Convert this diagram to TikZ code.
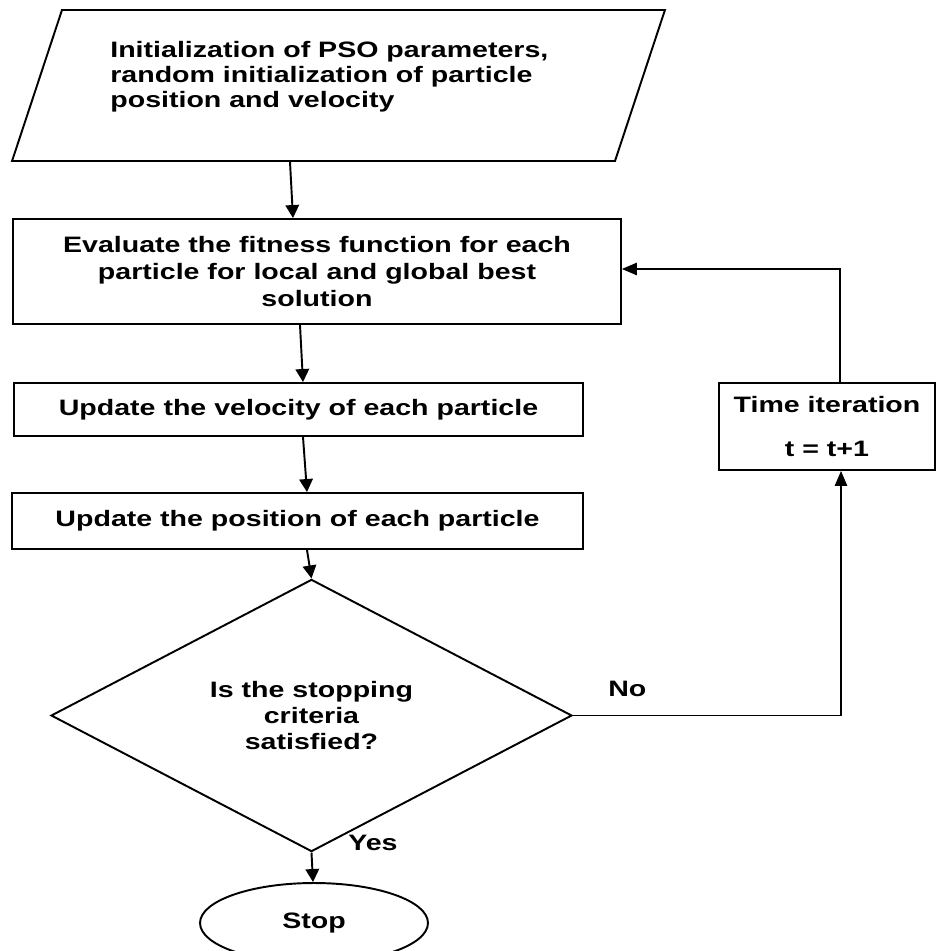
\documentclass[tikz,border=0pt]{standalone}
\usepackage{fontspec}
\setmainfont{Liberation Sans}[FakeStretch=1.28]
\usetikzlibrary{shapes.geometric,arrows.meta,calc}

\begin{document}
\begin{tikzpicture}[x=0.02cm,y=-0.02cm,
    every node/.style={font=\fontsize{12.7}{15.5}\selectfont\bfseries},
    proc/.style={draw,line width=1.1pt,rectangle,align=center,inner sep=0pt},
    arr/.style={line width=1.1pt,-{Triangle[length=0.26cm,width=0.27cm]}},
    link/.style={line width=0.7pt,-{Triangle[length=0.3cm,width=0.25cm]}}]
    \useasboundingbox (0,0) rectangle (948,951);

    \node[draw,line width=1.1pt,trapezium,trapezium left angle=71.7,trapezium right angle=108.3,
        trapezium stretches body=true,inner xsep=0pt,inner ysep=1.51cm,minimum width=13.06cm] (init) at (338.5,85.5) {};
    \node[anchor=north west,align=left,inner sep=0pt,font=\fontsize{12.7}{14.2}\selectfont\bfseries]
        (inittext) at (110,41) {Initialization of PSO parameters,\\random initialization of particle\\position and velocity};
    \node[proc,minimum width=12.16cm,minimum height=2.1cm,font=\fontsize{12.7}{15.6}\selectfont\bfseries]
        (eval) at (317,271.5) {Evaluate the fitness function for each\\particle for local and global best\\solution};
    \node[proc,minimum width=11.38cm,minimum height=1.06cm] (vel) at (298.5,409.5) {Update the velocity of each particle};
    \node[proc,minimum width=11.42cm,minimum height=1.12cm] (pos) at (297.5,521) {Update the position of each particle};
    \node[proc,minimum width=4.32cm,minimum height=1.74cm,font=\fontsize{12.7}{25}\selectfont\bfseries]
        (time) at (827,426.5) {Time iteration\\t = t+1};
    \node[draw,line width=1.1pt,diamond,align=center,inner sep=0pt,minimum width=10.42cm,minimum height=4.3cm,
        font=\fontsize{12.7}{15}\selectfont\bfseries] (dia) at (311.5,715.5) {Is the stopping\\criteria\\satisfied?};
    \node[draw,line width=1.1pt,ellipse,minimum width=4.56cm,minimum height=1.6cm] (stop) at (314,923) {Stop};

    \node[anchor=base west,inner sep=0pt] (yes) at (348,850) {Yes};
    \node[anchor=base west,inner sep=0pt] (no) at (608,696) {No};
    \coordinate (nocorner) at (841,715.5);
    \coordinate (backcorner) at (840,269);

    \draw[arr] ($(init.south)+(-48.5,0)$) -- ($(eval.north)+(-24,0)$);
    \draw[arr] ($(eval.south)+(-17,0)$) -- ($(vel.north)+(4.5,0)$);
    \draw[arr] ($(vel.south)+(4.5,0)$) -- ($(pos.north)+(9.5,0)$);
    \draw[arr] ($(pos.south)+(9.5,0)$) -- (dia.north);
    \draw[arr] (dia.south) -- ($(stop.north)+(-1,0)$);
    \draw[link] (dia.east) -- (nocorner) -- (nocorner |- time.south);
    \draw[link] (backcorner |- time.north) -- (backcorner) -- (eval.east |- backcorner);
\end{tikzpicture}
\end{document}
